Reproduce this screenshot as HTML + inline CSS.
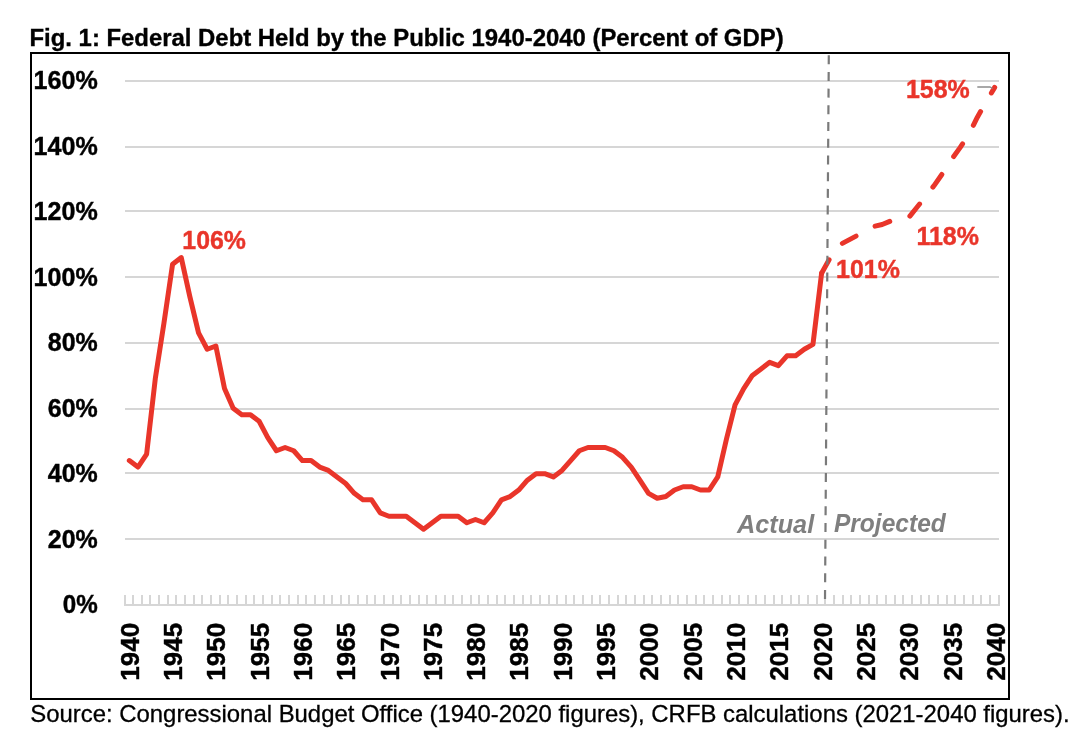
<!DOCTYPE html>
<html><head><meta charset="utf-8"><style>
html,body{margin:0;padding:0;background:#fff;}
body{width:1080px;height:744px;overflow:hidden;position:relative;}
svg{position:absolute;left:0;top:0;will-change:transform;}
.ax{font-family:"Liberation Sans",sans-serif;font-weight:bold;font-size:26.5px;fill:#000;stroke:#000;stroke-width:0.45px;}
.dl{font-family:"Liberation Sans",sans-serif;font-weight:bold;font-size:26.5px;fill:#E9352A;stroke:#E9352A;stroke-width:0.45px;}
.ap{font-family:"Liberation Sans",sans-serif;font-weight:bold;font-style:italic;font-size:26.5px;fill:#7f7f7f;}
.t{font-family:"Liberation Sans",sans-serif;font-weight:bold;font-size:23.9px;fill:#000;stroke:#000;stroke-width:0.35px;}
.s{font-family:"Liberation Sans",sans-serif;font-size:23.9px;fill:#000;stroke:#000;stroke-width:0.3px;}
</style></head><body>
<svg width="1080" height="744" viewBox="0 0 1080 744">
<text x="29.5" y="45.8" class="t">Fig. 1: Federal Debt Held by the Public 1940-2040 (Percent of GDP)</text>
<rect x="31" y="53" width="978" height="646" fill="none" stroke="#000" stroke-width="2"/>
<rect x="125" y="80" width="874" height="2" fill="#d6d6d6" shape-rendering="crispEdges"/>
<rect x="125" y="146" width="874" height="2" fill="#d6d6d6" shape-rendering="crispEdges"/>
<rect x="125" y="210" width="874" height="2" fill="#d6d6d6" shape-rendering="crispEdges"/>
<rect x="125" y="276" width="874" height="2" fill="#d6d6d6" shape-rendering="crispEdges"/>
<rect x="125" y="342" width="874" height="2" fill="#d6d6d6" shape-rendering="crispEdges"/>
<rect x="125" y="408" width="874" height="2" fill="#d6d6d6" shape-rendering="crispEdges"/>
<rect x="125" y="472" width="874" height="2" fill="#d6d6d6" shape-rendering="crispEdges"/>
<rect x="125" y="538" width="874" height="2" fill="#d6d6d6" shape-rendering="crispEdges"/>
<rect x="125" y="604" width="875" height="2" fill="#d6d6d6" shape-rendering="crispEdges"/>
<g fill="#d6d6d6" shape-rendering="crispEdges"><rect x="124" y="595" width="2" height="11"/><rect x="132" y="595" width="2" height="11"/><rect x="141" y="595" width="2" height="11"/><rect x="149" y="595" width="2" height="11"/><rect x="158" y="595" width="2" height="11"/><rect x="167" y="595" width="2" height="11"/><rect x="175" y="595" width="2" height="11"/><rect x="184" y="595" width="2" height="11"/><rect x="193" y="595" width="2" height="11"/><rect x="201" y="595" width="2" height="11"/><rect x="210" y="595" width="2" height="11"/><rect x="219" y="595" width="2" height="11"/><rect x="227" y="595" width="2" height="11"/><rect x="236" y="595" width="2" height="11"/><rect x="245" y="595" width="2" height="11"/><rect x="253" y="595" width="2" height="11"/><rect x="262" y="595" width="2" height="11"/><rect x="271" y="595" width="2" height="11"/><rect x="279" y="595" width="2" height="11"/><rect x="288" y="595" width="2" height="11"/><rect x="297" y="595" width="2" height="11"/><rect x="305" y="595" width="2" height="11"/><rect x="314" y="595" width="2" height="11"/><rect x="323" y="595" width="2" height="11"/><rect x="331" y="595" width="2" height="11"/><rect x="340" y="595" width="2" height="11"/><rect x="348" y="595" width="2" height="11"/><rect x="357" y="595" width="2" height="11"/><rect x="366" y="595" width="2" height="11"/><rect x="374" y="595" width="2" height="11"/><rect x="383" y="595" width="2" height="11"/><rect x="392" y="595" width="2" height="11"/><rect x="400" y="595" width="2" height="11"/><rect x="409" y="595" width="2" height="11"/><rect x="418" y="595" width="2" height="11"/><rect x="426" y="595" width="2" height="11"/><rect x="435" y="595" width="2" height="11"/><rect x="444" y="595" width="2" height="11"/><rect x="452" y="595" width="2" height="11"/><rect x="461" y="595" width="2" height="11"/><rect x="470" y="595" width="2" height="11"/><rect x="478" y="595" width="2" height="11"/><rect x="487" y="595" width="2" height="11"/><rect x="496" y="595" width="2" height="11"/><rect x="504" y="595" width="2" height="11"/><rect x="513" y="595" width="2" height="11"/><rect x="522" y="595" width="2" height="11"/><rect x="530" y="595" width="2" height="11"/><rect x="539" y="595" width="2" height="11"/><rect x="548" y="595" width="2" height="11"/><rect x="556" y="595" width="2" height="11"/><rect x="565" y="595" width="2" height="11"/><rect x="573" y="595" width="2" height="11"/><rect x="582" y="595" width="2" height="11"/><rect x="591" y="595" width="2" height="11"/><rect x="599" y="595" width="2" height="11"/><rect x="608" y="595" width="2" height="11"/><rect x="617" y="595" width="2" height="11"/><rect x="625" y="595" width="2" height="11"/><rect x="634" y="595" width="2" height="11"/><rect x="643" y="595" width="2" height="11"/><rect x="651" y="595" width="2" height="11"/><rect x="660" y="595" width="2" height="11"/><rect x="669" y="595" width="2" height="11"/><rect x="677" y="595" width="2" height="11"/><rect x="686" y="595" width="2" height="11"/><rect x="695" y="595" width="2" height="11"/><rect x="703" y="595" width="2" height="11"/><rect x="712" y="595" width="2" height="11"/><rect x="721" y="595" width="2" height="11"/><rect x="729" y="595" width="2" height="11"/><rect x="738" y="595" width="2" height="11"/><rect x="747" y="595" width="2" height="11"/><rect x="755" y="595" width="2" height="11"/><rect x="764" y="595" width="2" height="11"/><rect x="773" y="595" width="2" height="11"/><rect x="781" y="595" width="2" height="11"/><rect x="790" y="595" width="2" height="11"/><rect x="798" y="595" width="2" height="11"/><rect x="807" y="595" width="2" height="11"/><rect x="816" y="595" width="2" height="11"/><rect x="824" y="595" width="2" height="11"/><rect x="833" y="595" width="2" height="11"/><rect x="842" y="595" width="2" height="11"/><rect x="850" y="595" width="2" height="11"/><rect x="859" y="595" width="2" height="11"/><rect x="868" y="595" width="2" height="11"/><rect x="876" y="595" width="2" height="11"/><rect x="885" y="595" width="2" height="11"/><rect x="894" y="595" width="2" height="11"/><rect x="902" y="595" width="2" height="11"/><rect x="911" y="595" width="2" height="11"/><rect x="920" y="595" width="2" height="11"/><rect x="928" y="595" width="2" height="11"/><rect x="937" y="595" width="2" height="11"/><rect x="946" y="595" width="2" height="11"/><rect x="954" y="595" width="2" height="11"/><rect x="963" y="595" width="2" height="11"/><rect x="972" y="595" width="2" height="11"/><rect x="980" y="595" width="2" height="11"/><rect x="989" y="595" width="2" height="11"/><rect x="998" y="595" width="2" height="11"/></g>
<text transform="translate(62.71,613.01) scale(0.9135,0.9766)" class="ax">0%</text>
<text transform="translate(47.79,547.54) scale(0.9411,0.9766)" class="ax">20%</text>
<text transform="translate(47.79,482.07) scale(0.9411,0.9766)" class="ax">40%</text>
<text transform="translate(47.79,416.60) scale(0.9411,0.9766)" class="ax">60%</text>
<text transform="translate(47.79,351.13) scale(0.9411,0.9766)" class="ax">80%</text>
<text transform="translate(33.58,285.66) scale(0.9460,0.9766)" class="ax">100%</text>
<text transform="translate(33.58,220.19) scale(0.9460,0.9766)" class="ax">120%</text>
<text transform="translate(33.58,154.72) scale(0.9460,0.9766)" class="ax">140%</text>
<text transform="translate(33.58,89.25) scale(0.9460,0.9766)" class="ax">160%</text>
<text transform="translate(138.72,680.68) rotate(-90) scale(0.985,0.95)" class="ax">1940</text>
<text transform="translate(182.03,680.68) rotate(-90) scale(0.985,0.95)" class="ax">1945</text>
<text transform="translate(225.34,680.68) rotate(-90) scale(0.985,0.95)" class="ax">1950</text>
<text transform="translate(268.64,680.68) rotate(-90) scale(0.985,0.95)" class="ax">1955</text>
<text transform="translate(311.94,680.68) rotate(-90) scale(0.985,0.95)" class="ax">1960</text>
<text transform="translate(355.25,680.68) rotate(-90) scale(0.985,0.95)" class="ax">1965</text>
<text transform="translate(398.55,680.68) rotate(-90) scale(0.985,0.95)" class="ax">1970</text>
<text transform="translate(441.86,680.68) rotate(-90) scale(0.985,0.95)" class="ax">1975</text>
<text transform="translate(485.16,680.68) rotate(-90) scale(0.985,0.95)" class="ax">1980</text>
<text transform="translate(528.47,680.68) rotate(-90) scale(0.985,0.95)" class="ax">1985</text>
<text transform="translate(571.77,680.68) rotate(-90) scale(0.985,0.95)" class="ax">1990</text>
<text transform="translate(615.08,680.68) rotate(-90) scale(0.985,0.95)" class="ax">1995</text>
<text transform="translate(658.38,680.68) rotate(-90) scale(0.985,0.95)" class="ax">2000</text>
<text transform="translate(701.69,680.68) rotate(-90) scale(0.985,0.95)" class="ax">2005</text>
<text transform="translate(745.00,680.68) rotate(-90) scale(0.985,0.95)" class="ax">2010</text>
<text transform="translate(788.30,680.68) rotate(-90) scale(0.985,0.95)" class="ax">2015</text>
<text transform="translate(831.60,680.68) rotate(-90) scale(0.985,0.95)" class="ax">2020</text>
<text transform="translate(874.91,680.68) rotate(-90) scale(0.985,0.95)" class="ax">2025</text>
<text transform="translate(918.22,680.68) rotate(-90) scale(0.985,0.95)" class="ax">2030</text>
<text transform="translate(961.52,680.68) rotate(-90) scale(0.985,0.95)" class="ax">2035</text>
<text transform="translate(1004.82,680.68) rotate(-90) scale(0.985,0.95)" class="ax">2040</text>
<text transform="translate(736.98,532.56) scale(0.9537,0.9744)" class="ap">Actual</text>
<text transform="translate(833.94,532.19) scale(0.9267,0.9657)" class="ap">Projected</text>
<polyline points="821.60,273.32 830.26,257.61 838.91,245.17 847.56,240.59 856.22,236.00 864.87,231.42 873.52,226.51 882.18,224.55 890.83,220.95 899.49,219.31 908.14,218.33 916.79,207.52 925.45,196.72 934.10,185.59 942.75,173.15 951.41,159.73 960.06,147.62 968.71,134.53 977.37,117.18 986.02,102.12 994.67,87.39" fill="none" stroke="#E9352A" stroke-width="5" stroke-linecap="round" stroke-linejoin="round" stroke-dasharray="15.5 21.5"/>
<polyline points="129.33,460.57 137.98,467.11 146.63,454.02 155.29,378.73 163.94,323.08 172.59,264.16 181.25,257.61 189.90,296.89 198.55,332.90 207.21,349.27 215.86,345.99 224.51,388.55 233.17,408.19 241.82,414.74 250.48,414.74 259.13,421.28 267.78,437.65 276.44,450.75 285.09,447.47 293.74,450.75 302.40,460.57 311.05,460.57 319.70,467.11 328.36,470.39 337.01,476.93 345.66,483.48 354.32,493.30 362.97,499.85 371.62,499.85 380.28,512.94 388.93,516.22 397.58,516.22 406.24,516.22 414.89,522.76 423.54,529.31 432.20,522.76 440.85,516.22 449.50,516.22 458.16,516.22 466.81,522.76 475.47,519.49 484.12,522.76 492.77,512.94 501.43,499.85 510.08,496.57 518.73,490.03 527.39,480.21 536.04,473.66 544.69,473.66 553.35,476.93 562.00,470.39 570.65,460.57 579.31,450.75 587.96,447.47 596.61,447.47 605.27,447.47 613.92,450.75 622.57,457.29 631.23,467.11 639.88,480.21 648.53,493.30 657.19,498.21 665.84,496.57 674.50,490.03 683.15,486.75 691.80,486.75 700.46,490.03 709.11,490.03 717.76,476.93 726.42,439.29 735.07,404.92 743.72,388.55 752.38,375.46 761.03,368.91 769.68,362.36 778.34,365.63 786.99,355.81 795.64,355.81 804.30,349.27 812.95,344.36 821.60,273.32" fill="none" stroke="#E9352A" stroke-width="5" stroke-linecap="round" stroke-linejoin="round"/>
<line x1="828.8" y1="55.2" x2="825" y2="599.4" stroke="#7a7a7a" stroke-width="2.2" stroke-dasharray="9 7.71"/>
<path d="M977.3 87 L990 87 L992.6 88.5" fill="none" stroke="#8c8c8c" stroke-width="1.3"/>
<text transform="translate(182.34,248.71) scale(0.9376,0.9766)" class="dl">106%</text>
<text transform="translate(835.99,277.71) scale(0.9430,0.9818)" class="dl">101%</text>
<text transform="translate(916.39,244.90) scale(0.9430,0.9922)" class="dl">118%</text>
<text transform="translate(905.99,97.71) scale(0.9414,0.9818)" class="dl">158%</text>
<text x="30.3" y="722" class="s">Source: Congressional Budget Office (1940-2020 figures), CRFB calculations (2021-2040 figures).</text>
</svg>
</body></html>
